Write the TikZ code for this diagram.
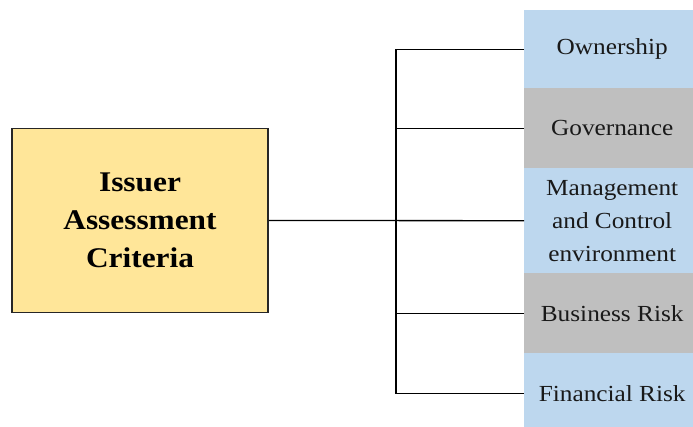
\documentclass[tikz,border=0pt]{standalone}
\usepackage{fontspec}
\setmainfont[FakeStretch=1.1]{Liberation Serif}
\definecolor{boxyellow}{HTML}{FFE699}
\definecolor{bandblue}{HTML}{BDD7EE}
\definecolor{bandgray}{HTML}{BFBFBF}
\begin{document}
\begin{tikzpicture}[x=1pt,y=-1pt,
  mainbox/.style={draw=black!85,line width=1.8pt,fill=boxyellow,minimum width=256pt,minimum height=184pt,
    align=center,inner sep=0pt,font=\bfseries\fontsize{28.5}{38}\selectfont},
  band/.style={anchor=north west,minimum width=176pt,inner sep=0pt,align=center,
    font=\fontsize{23}{33}\selectfont,text=black!90},
  link/.style={draw=black,line width=1.3pt}]
\useasboundingbox (0,0) rectangle (693,427);
\begin{scope}
\clip (0,0) rectangle (693,427);
\node[band,fill=bandblue,minimum height=78pt] (own) at (524,10) {Ownership};
\node[band,fill=bandgray,minimum height=80pt] (gov) at (524,88) {Governance};
\node[band,fill=bandblue,minimum height=105pt] (mgt) at (524,168) {Management\\and Control\\environment};
\node[band,fill=bandgray,minimum height=80pt] (bus) at (524,273) {Business Risk};
\node[band,fill=bandblue,minimum height=80pt] (fin) at (524,353) {Financial Risk};
\end{scope}
\node[mainbox] (box) at (140,220.5) {Issuer\\Assessment\\Criteria};
\coordinate (tk) at (396,0);
\draw[link] (own.west) -- (own.west -| tk) -- (fin.west -| tk) -- (fin.west);
\draw[link] (gov.west) -- (gov.west -| tk);
\draw[link] (box.east) -- (mgt.west);
\draw[link] (bus.west) -- (bus.west -| tk);
\end{tikzpicture}
\end{document}
